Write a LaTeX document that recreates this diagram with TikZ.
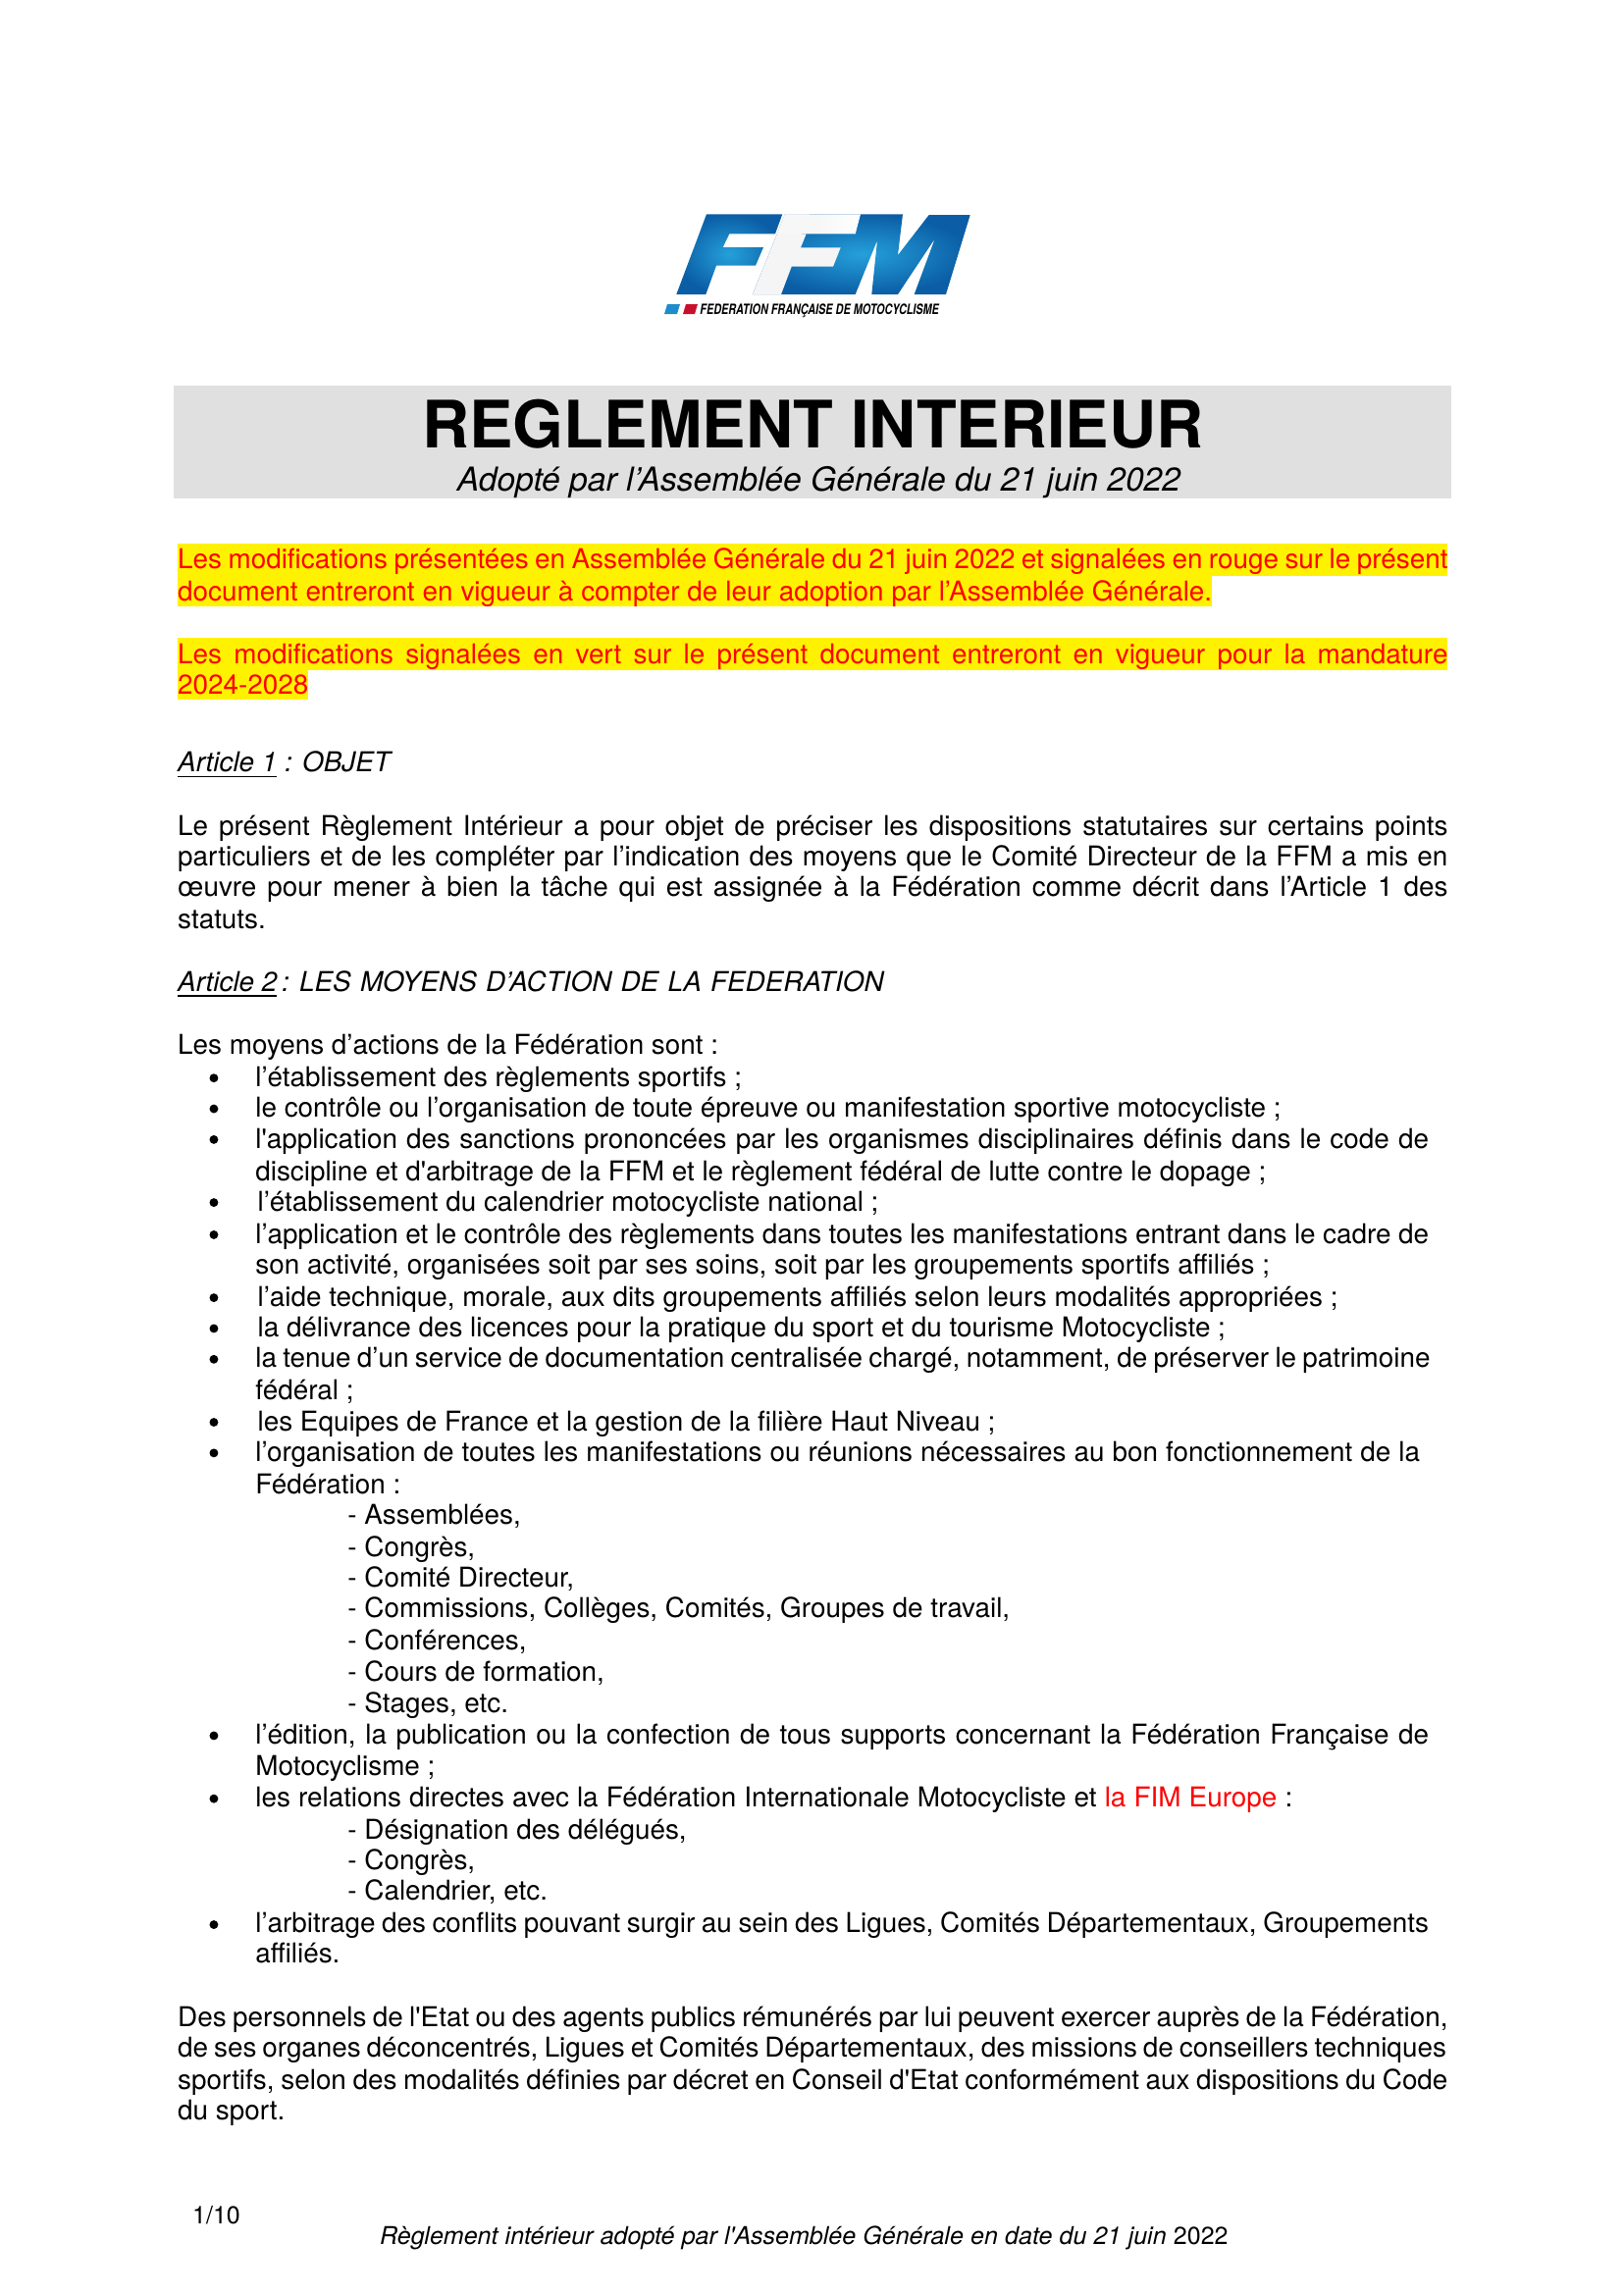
\documentclass[tikz,border=0pt]{standalone}
\usepackage{fontspec}
\usepackage{xcolor}
\newfontfamily\hv{TeX Gyre Heros}
\definecolor{hdrgray}{HTML}{E0E0E0}
\definecolor{ffmdark}{HTML}{0B5EA5}
\definecolor{ffmlight}{HTML}{25A0DA}
\definecolor{ffmred}{HTML}{C8102E}
\pgfdeclarehorizontalshading{fadeblue}{100bp}{color(0bp)=(white!97!black); color(50bp)=(white!97!black); color(75bp)=(white); color(100bp)=(ffmdark)}
\newcounter{ln}
\newcommand\Ln[3]{\stepcounter{ln}\node[txt] (ln\theln) at ({(#1+0.4)*1.4928},{(#2+6.3-(#2-382)*0.001)*1.4928}) {#3};}
\newcommand\Lj[4]{\stepcounter{ln}\node[txt] (ln\theln) at ({(#1+0.4)*1.4928},{(#2+6.3-(#2-382)*0.001)*1.4928}) {\makebox[#3\tu][s]{#4}};}
\newcommand\Bu[1]{\stepcounter{ln}\node[bul] (ln\theln) at ({146*1.4928},{#1*1.4928}) {};}
\newlength\tu \setlength\tu{0.53741pt}
\tikzset{
  txt/.style={anchor=base west,inner sep=0pt,outer sep=0pt,font=\hv\fontsize{10.03}{11.5}\selectfont,text=black},
  bul/.style={circle,fill=black,inner sep=0pt,minimum size=3.2pt},
  hl/.style={fill=yellow,draw=none},
  ctr/.style={anchor=base,inner sep=0pt,outer sep=0pt},
}
\begin{document}
\begin{tikzpicture}[x=0.36pt,y=-0.36pt]
\useasboundingbox (0,0) rectangle (1654,2339);
% logo
\shade[inner color=ffmlight,outer color=ffmdark,draw=none] (720,218.3)--(797.3,218.3)--(790,238.3)--(743.3,238.3)--(736.7,252)--(778,252)--(770,270.7)--(730,270.7)--(719.3,300)--(689.3,300)--cycle;
\shade[inner color=ffmlight,outer color=ffmdark,draw=none] (800,218.3)--(920,218.3)--(915,260)--(946.7,219)--(988.7,219)--(964,300)--(931.7,300)--(952.7,243.3)--(915,300)--(888.3,300)--(894,245)--(871.7,300)--(767,300)--cycle;
\fill[white!96!black] (800,218.3)--(825,218.3)--(817,238.3)--(821.7,238.3)--(816,252.3)--(856.7,252.3)--(849,271.7)--(806.7,271.7)--(796,300)--(767,300)--cycle;
\shade[shading=fadeblue] (800,218.3)--(877,218.3)--(871.7,238.3)--(792,238.3)--cycle;
\fill[ffmlight!70!ffmdark] (680,310)--(693,310)--(690,320)--(677,320)--cycle;
\fill[ffmred] (699,310)--(711,310)--(708,320)--(696,320)--cycle;
\node[anchor=base west,inner sep=0pt,xscale=0.75] (logotext) at (713,320) {\hv\bfseries\itshape\fontsize{5.2}{6}\selectfont FEDERATION FRANÇAISE DE MOTOCYCLISME};
% title band
\fill[hdrgray] (177,393) rectangle (1479,508);
\node[ctr] (title) at (828.5,456) {\hv\bfseries\fontsize{24}{28}\selectfont REGLEMENT INTERIEUR};
\node[ctr] (subtitle) at (834.5,500) {\hv\itshape\fontsize{12.1}{14}\selectfont Adopté par l’Assemblée Générale du 21 juin 2022};
% highlights
\fill[hl] (181,554) rectangle (1475,586.5);
\fill[hl] (181,586) rectangle (1235,618);
\fill[hl] (181,650) rectangle (1475,682.5);
\fill[hl] (181,682) rectangle (314,713);
% red notes
\Lj{121}{382}{867}{\color{red}Les modifications présentées en Assemblée Générale du 21 juin 2022 et signalées en rouge sur le présent}
\Lj{121}{404}{706}{\color{red}document entreront en vigueur à compter de leur adoption par l’Assemblée Générale.}
\Lj{121}{447}{867}{\color{red}Les modifications signalées en vert sur le présent document entreront en vigueur pour la mandature}
\Ln{121}{468}{\color{red}2024-2028}
\Ln{121}{521}{\itshape\underline{Article 1} : OBJET}
\Lj{121}{564}{867}{Le présent Règlement Intérieur a pour objet de préciser les dispositions statutaires sur certains points}
\Lj{121}{585}{867}{particuliers et de les compléter par l’indication des moyens que le Comité Directeur de la FFM a mis en}
\Lj{121}{606}{867}{œuvre pour mener à bien la tâche qui est assignée à la Fédération comme décrit dans l’Article 1 des}
\Ln{121}{628}{statuts.}
\Ln{121}{671}{\itshape\underline{Article 2}\,:}
\Lj{204}{671}{399}{\itshape LES MOYENS D’ACTION DE LA FEDERATION}
\Ln{121}{714}{Les moyens d’actions de la Fédération sont :}
\Bu{736}\Ln{174}{736}{l’établissement des règlements sportifs ;}
\Bu{757}\Ln{174}{757}{le contrôle ou l’organisation de toute épreuve ou manifestation sportive motocycliste ;}
\Bu{778}\Lj{174}{778}{801}{l'application des sanctions prononcées par les organismes disciplinaires définis dans le code de}
\Ln{174}{800}{discipline et d'arbitrage de la FFM et le règlement fédéral de lutte contre le dopage ;}
\Bu{821}\Ln{175.5}{821}{l’établissement du calendrier motocycliste national ;}
\Bu{843}\Lj{174}{843}{801}{l’application et le contrôle des règlements dans toutes les manifestations entrant dans le cadre de}
\Ln{174}{864}{son activité, organisées soit par ses soins, soit par les groupements sportifs affiliés ;}
\Bu{886}\Ln{175.5}{886}{l’aide technique, morale, aux dits groupements affiliés selon leurs modalités appropriées ;}
\Bu{907}\Ln{175.5}{907}{la délivrance des licences pour la pratique du sport et du tourisme Motocycliste ;}
\Bu{928}\Lj{174}{928}{802}{la tenue d’un service de documentation centralisée chargé, notamment, de préserver le patrimoine}
\Ln{174}{950}{fédéral ;}
\Bu{971}\Ln{175.5}{971}{les Equipes de France et la gestion de la filière Haut Niveau ;}
\Bu{992}\Lj{174}{992}{795}{l’organisation de toutes les manifestations ou réunions nécessaires au bon fonctionnement de la}
\Ln{174}{1014}{Fédération :}
\Ln{237}{1035}{- Assemblées,}
\Ln{237}{1057}{- Congrès,}
\Ln{237}{1078}{- Comité Directeur,}
\Ln{237}{1099}{- Commissions, Collèges, Comités, Groupes de travail,}
\Ln{237}{1121}{- Conférences,}
\Ln{237}{1142}{- Cours de formation,}
\Ln{237}{1164}{- Stages, etc.}
\Bu{1185}\Lj{174}{1185}{801}{l’édition, la publication ou la confection de tous supports concernant la Fédération Française de}
\Ln{174}{1207}{Motocyclisme ;}
\Bu{1228}\Lj{174}{1228}{708}{les relations directes avec la Fédération Internationale Motocycliste et {\color{red}la FIM Europe} :}
\Ln{237}{1250}{- Désignation des délégués,}
\Ln{237}{1271}{- Congrès,}
\Ln{237}{1292}{- Calendrier, etc.}
\Bu{1314}\Lj{174}{1314}{801}{l’arbitrage des conflits pouvant surgir au sein des Ligues, Comités Départementaux, Groupements}
\Ln{174}{1335}{affiliés.}
\Lj{121}{1378}{867}{Des personnels de l'Etat ou des agents publics rémunérés par lui peuvent exercer auprès de la Fédération,}
\Lj{121}{1399}{866}{de ses organes déconcentrés, Ligues et Comités Départementaux, des missions de conseillers techniques}
\Lj{121}{1421}{867}{sportifs, selon des modalités définies par décret en Conseil d'Etat conformément aux dispositions du Code}
\Ln{121}{1442}{du sport.}
\Ln{131}{1513}{\fontsize{9}{10}\selectfont 1/10}
\Lj{259}{1527}{579}{\fontsize{9}{10}\selectfont\itshape Règlement intérieur adopté par l'Assemblée Générale en date du 21 juin \upshape 2022}
\end{tikzpicture}
\end{document}
